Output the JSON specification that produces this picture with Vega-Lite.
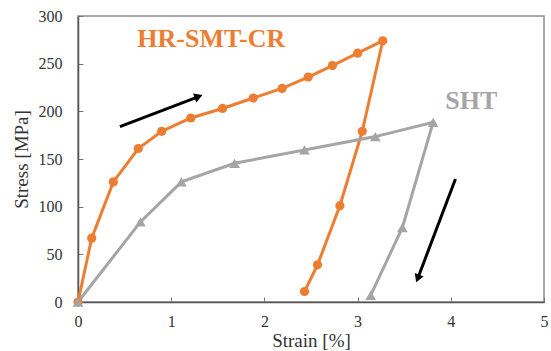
{
  "$schema": "https://vega.github.io/schema/vega-lite/v6.json",
  "width": 466,
  "height": 286,
  "autosize": "none",
  "padding": {"left": 78, "top": 16, "right": 7, "bottom": 49},
  "background": "white",
  "config": {
    "view": {"stroke": "#8c8c8c", "strokeWidth": 1.5},
    "font": "'Liberation Serif', 'Times New Roman', serif",
    "scale": {"continuousPadding": 0}
  },
  "datasets": {
    "curves": [
      {"series": "HR-SMT-CR", "i": 0, "strain": 0, "stress": 0},
      {"series": "HR-SMT-CR", "i": 1, "strain": 0.147, "stress": 67},
      {"series": "HR-SMT-CR", "i": 2, "strain": 0.379, "stress": 126},
      {"series": "HR-SMT-CR", "i": 3, "strain": 0.647, "stress": 161},
      {"series": "HR-SMT-CR", "i": 4, "strain": 0.898, "stress": 179},
      {"series": "HR-SMT-CR", "i": 5, "strain": 1.21, "stress": 193},
      {"series": "HR-SMT-CR", "i": 6, "strain": 1.55, "stress": 203},
      {"series": "HR-SMT-CR", "i": 7, "strain": 1.88, "stress": 214},
      {"series": "HR-SMT-CR", "i": 8, "strain": 2.19, "stress": 224},
      {"series": "HR-SMT-CR", "i": 9, "strain": 2.47, "stress": 236},
      {"series": "HR-SMT-CR", "i": 10, "strain": 2.73, "stress": 248},
      {"series": "HR-SMT-CR", "i": 11, "strain": 3.0, "stress": 261},
      {"series": "HR-SMT-CR", "i": 12, "strain": 3.27, "stress": 274},
      {"series": "HR-SMT-CR", "i": 13, "strain": 3.05, "stress": 179},
      {"series": "HR-SMT-CR", "i": 14, "strain": 2.81, "stress": 101},
      {"series": "HR-SMT-CR", "i": 15, "strain": 2.57, "stress": 39},
      {"series": "HR-SMT-CR", "i": 16, "strain": 2.43, "stress": 11},
      {"series": "SHT", "i": 0, "strain": 0, "stress": 0},
      {"series": "SHT", "i": 1, "strain": 0.67, "stress": 84},
      {"series": "SHT", "i": 2, "strain": 1.11, "stress": 126},
      {"series": "SHT", "i": 3, "strain": 1.68, "stress": 145.5},
      {"series": "SHT", "i": 4, "strain": 2.43, "stress": 159.5},
      {"series": "SHT", "i": 5, "strain": 3.19, "stress": 173.5},
      {"series": "SHT", "i": 6, "strain": 3.81, "stress": 188.5},
      {"series": "SHT", "i": 7, "strain": 3.48, "stress": 78},
      {"series": "SHT", "i": 8, "strain": 3.14, "stress": 7}
    ],
    "arrows": [
      {"x0": 0.45, "y0": 184, "x1": 1.28, "y1": 215, "angle": 69.5},
      {"x0": 4.05, "y0": 129, "x1": 3.65, "y1": 26, "angle": 201.3}
    ],
    "labels": [
      {"label": "HR-SMT-CR", "x": 1.43, "y": 276, "series": "HR-SMT-CR"},
      {"label": "SHT", "x": 4.22, "y": 211, "series": "SHT"}
    ]
  },
  "layer": [
    {
      "data": {"name": "curves"},
      "mark": {"type": "line", "strokeWidth": 3},
      "encoding": {
        "x": {
          "field": "strain", "type": "quantitative",
          "scale": {"domain": [0, 5], "nice": false, "zero": false, "padding": 0},
          "axis": {
            "title": "Strain [%]", "values": [0, 1, 2, 3, 4, 5], "format": "d", "grid": false, "labelFlush": false,
            "labelFont": "'Liberation Serif', 'Times New Roman', serif", "labelFontSize": 16, "labelColor": "#333",
            "titleFont": "'Liberation Serif', 'Times New Roman', serif", "titleFontSize": 19, "titleFontWeight": "normal", "titleColor": "#333",
            "domainColor": "#555", "domainWidth": 1.5, "tickColor": "#777", "tickSize": -5,
            "labelPadding": 16, "titlePadding": 2
          }
        },
        "y": {
          "field": "stress", "type": "quantitative",
          "scale": {"domain": [0, 300], "nice": false, "zero": false, "padding": 0},
          "axis": {
            "title": "Stress [MPa]", "values": [0, 50, 100, 150, 200, 250, 300], "format": "d", "grid": false, "labelFlush": false,
            "labelFont": "'Liberation Serif', 'Times New Roman', serif", "labelFontSize": 16, "labelColor": "#333",
            "titleFont": "'Liberation Serif', 'Times New Roman', serif", "titleFontSize": 19, "titleFontWeight": "normal", "titleColor": "#333",
            "domainColor": "#555", "domainWidth": 1.5, "tickColor": "#777", "tickSize": -5,
            "labelPadding": 21, "titlePadding": 7
          }
        },
        "color": {
          "field": "series", "type": "nominal",
          "scale": {"domain": ["HR-SMT-CR", "SHT"], "range": ["#ED7D31", "#A5A5A5"]},
          "legend": null
        },
        "order": {"field": "i", "type": "quantitative"}
      }
    },
    {
      "data": {"name": "curves"},
      "mark": {"type": "point", "filled": true, "opacity": 1},
      "encoding": {
        "x": {"field": "strain", "type": "quantitative"},
        "y": {"field": "stress", "type": "quantitative"},
        "color": {"field": "series", "type": "nominal", "legend": null},
        "shape": {
          "field": "series", "type": "nominal",
          "scale": {"domain": ["HR-SMT-CR", "SHT"], "range": ["circle", "triangle-up"]},
          "legend": null
        },
        "size": {
          "field": "series", "type": "nominal",
          "scale": {"domain": ["HR-SMT-CR", "SHT"], "range": [85, 115]},
          "legend": null
        }
      }
    },
    {
      "data": {"name": "arrows"},
      "mark": {"type": "rule", "color": "black", "strokeWidth": 3},
      "encoding": {
        "x": {"field": "x0", "type": "quantitative"},
        "y": {"field": "y0", "type": "quantitative"},
        "x2": {"field": "x1"},
        "y2": {"field": "y1"}
      }
    },
    {
      "data": {"name": "arrows"},
      "mark": {"type": "point", "shape": "triangle", "filled": true, "color": "black", "opacity": 1, "size": 90},
      "encoding": {
        "x": {"field": "x1", "type": "quantitative"},
        "y": {"field": "y1", "type": "quantitative"},
        "angle": {"field": "angle", "type": "quantitative", "scale": null}
      }
    },
    {
      "data": {"name": "labels"},
      "mark": {"type": "text", "font": "'Liberation Serif', 'Times New Roman', serif", "fontWeight": "bold", "fontSize": 26, "align": "center", "baseline": "middle"},
      "encoding": {
        "x": {"field": "x", "type": "quantitative"},
        "y": {"field": "y", "type": "quantitative"},
        "text": {"field": "label"},
        "color": {"field": "series", "type": "nominal", "scale": {"domain": ["HR-SMT-CR", "SHT"], "range": ["#ED7D31", "#8A8A8A"]}, "legend": null}
      }
    }
  ]
}
